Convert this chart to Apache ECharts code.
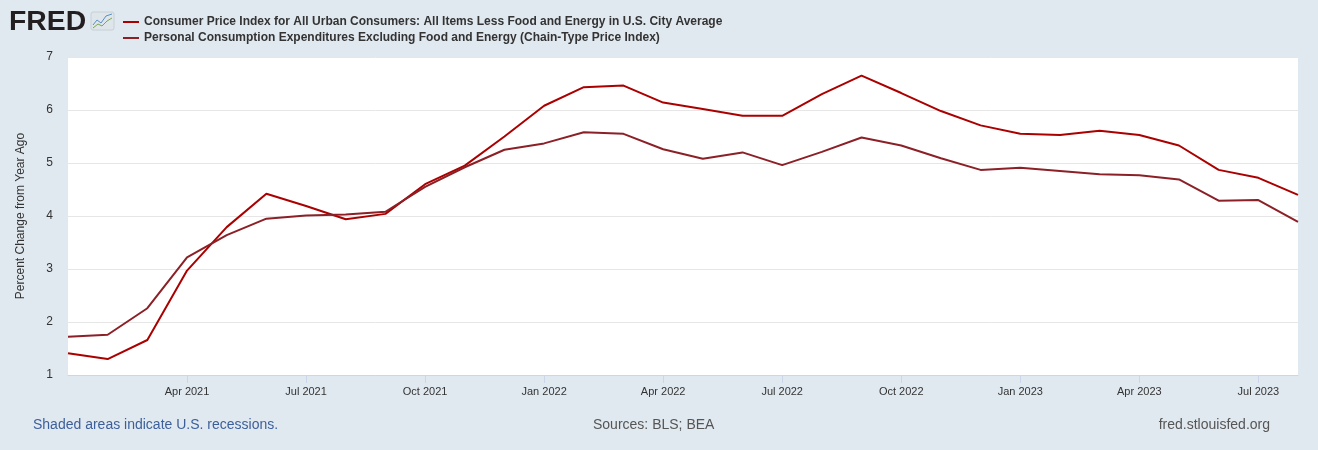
<!DOCTYPE html>
<html>
<head>
<meta charset="utf-8">
<script src="https://cdn.jsdelivr.net/npm/echarts@6/dist/echarts.min.js"></script>
<style>
html,body{margin:0;padding:0;background:#e1e9f0;}
#c{width:1318px;height:450px;}
</style>
</head>
<body>
<div id="c"></div>
<script>
var months = ['2021-01','2021-02','2021-03','2021-04','2021-05','2021-06','2021-07','2021-08','2021-09','2021-10','2021-11','2021-12',
'2022-01','2022-02','2022-03','2022-04','2022-05','2022-06','2022-07','2022-08','2022-09','2022-10','2022-11','2022-12',
'2023-01','2023-02','2023-03','2023-04','2023-05','2023-06','2023-07','2023-08'];
var cpiCore = [1.41,1.30,1.66,2.97,3.79,4.42,4.19,3.94,4.04,4.60,4.95,5.50,
6.08,6.43,6.46,6.14,6.02,5.89,5.89,6.30,6.65,6.32,5.98,5.71,
5.55,5.53,5.61,5.53,5.33,4.87,4.72,4.40];
var pceCore = [1.72,1.76,2.26,3.22,3.64,3.95,4.01,4.03,4.08,4.55,4.92,5.25,
5.37,5.58,5.55,5.26,5.08,5.20,4.96,5.21,5.48,5.33,5.09,4.87,
4.91,4.85,4.79,4.77,4.69,4.29,4.30,3.89];
var yTicks = [1,2,3,4,5,6,7];
var seriesNames = ['Consumer Price Index for All Urban Consumers: All Items Less Food and Energy in U.S. City Average',
'Personal Consumption Expenditures Excluding Food and Energy (Chain-Type Price Index)'];
var monthNames = ['Jan','Feb','Mar','Apr','May','Jun','Jul','Aug','Sep','Oct','Nov','Dec'];

function showIdx(i){ var m = parseInt(months[i].slice(5),10); return (m-1)%3===0 && i!==0; }

var chart = echarts.init(document.getElementById('c'));
chart.setOption({
  backgroundColor:'#e1e9f0',
  animation:false,
  textStyle:{fontFamily:'Liberation Sans, Arial, sans-serif'},
  legend:{
    left:118, top:11, orient:'vertical', itemWidth:16, itemHeight:2, itemGap:4,
    icon:'rect',
    textStyle:{fontSize:12, fontWeight:'bold', color:'#333', fontFamily:'Liberation Sans Narrow, Liberation Sans, Arial'},
    data:seriesNames
  },
  graphic:[
    {type:'text', x:9, y:9, scaleX:1.05, style:{text:'FRED', fontSize:27, fontWeight:900, fill:'#231f20', fontFamily:'Liberation Sans, Arial'}},
    {type:'rect', shape:{x:91,y:12,width:23,height:18,r:2}, style:{fill:'#dfe6ea', stroke:'#c7d0d6', lineWidth:1}},
    {type:'polyline', shape:{points:[[93,25],[97,20],[101,23],[106,16],[112,14]]}, style:{stroke:'#5b8fc7', lineWidth:1, fill:null}},
    {type:'polyline', shape:{points:[[93,28],[98,24],[102,26],[107,21],[112,18]]}, style:{stroke:'#7aa84a', lineWidth:1, fill:null}},
    {type:'text', left:33, top:418, style:{text:'Shaded areas indicate U.S. recessions.', fontSize:14, fill:'#3c5f9b', fontFamily:'Liberation Sans, Arial'}},
    {type:'text', left:593, top:418, style:{text:'Sources: BLS; BEA', fontSize:14, fill:'#555', fontFamily:'Liberation Sans, Arial'}},
    {type:'text', right:48, top:418, style:{text:'fred.stlouisfed.org', fontSize:14, fill:'#555', fontFamily:'Liberation Sans, Arial'}}
  ],
  grid:{left:68, right:20, top:57, bottom:75, show:true, backgroundColor:'#fff', borderWidth:0},
  xAxis:{
    type:'category', data:months, boundaryGap:false,
    axisLine:{lineStyle:{color:'#ccd6eb'}},
    axisTick:{show:true, length:8, interval:function(i){return showIdx(i);}, lineStyle:{color:'#ccd6eb'}},
    axisLabel:{interval:function(i){return showIdx(i);}, color:'#333', fontSize:11, margin:11,
      formatter:function(v){return monthNames[parseInt(v.slice(5),10)-1]+' '+v.slice(0,4);}},
    splitLine:{show:false}
  },
  yAxis:{
    type:'value', min:yTicks[0], max:yTicks[yTicks.length-1], interval:1,
    name:'Percent Change from Year Ago', nameLocation:'middle', nameGap:41,
    nameTextStyle:{color:'#333', fontSize:12},
    axisLine:{show:false}, axisTick:{show:false},
    axisLabel:{color:'#333', fontSize:12, margin:15},
    splitLine:{lineStyle:{color:'#e6e6e6'}}
  },
  series:[
    {name:seriesNames[0], type:'line', data:cpiCore, symbol:'none', lineStyle:{width:2, color:'#aa0000'}, itemStyle:{color:'#aa0000'}},
    {name:seriesNames[1], type:'line', data:pceCore, symbol:'none', lineStyle:{width:2, color:'#8b2027'}, itemStyle:{color:'#8b2027'}}
  ]
});
</script>
</body>
</html>
